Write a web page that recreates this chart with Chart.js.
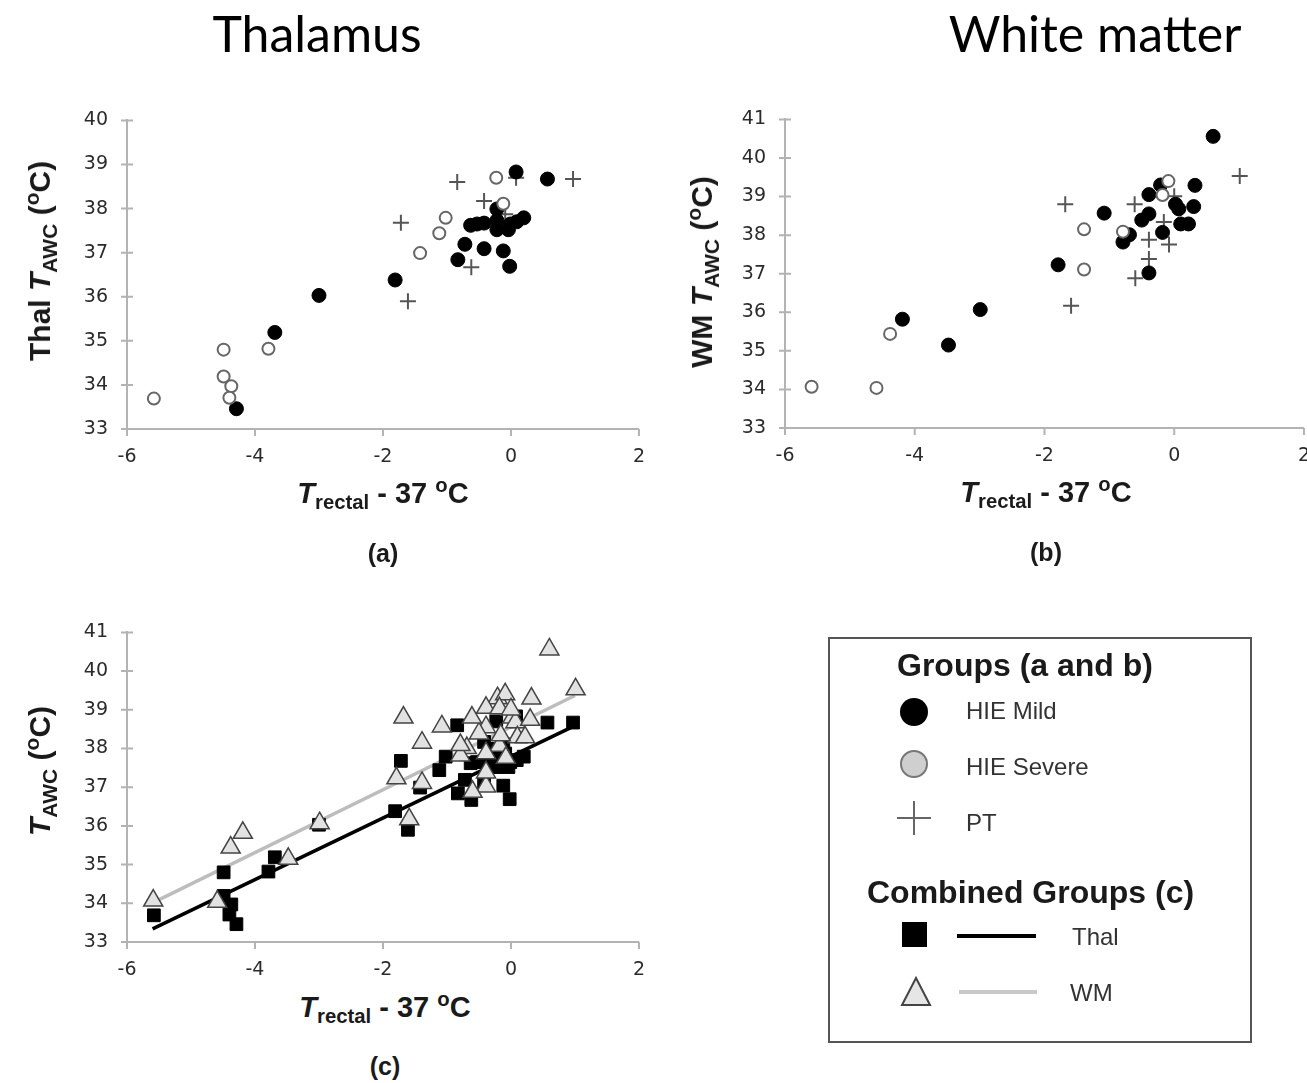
<!DOCTYPE html>
<html>
<head>
<meta charset="utf-8">
<script src="https://cdn.jsdelivr.net/npm/chart.js@4.4.1/dist/chart.umd.min.js"></script>
<style>
  html, body { margin: 0; padding: 0; background: #fff; width: 1307px; height: 1083px; overflow: hidden; }
  canvas { position: absolute; }
  .t { position: absolute; transform: translate(-50%, -50%); white-space: nowrap; line-height: 1;
       font-family: "Liberation Sans", Arial, sans-serif; font-weight: bold; color: #1a1a1a; }
  .rot { transform: translate(-50%, -50%) rotate(-90deg); }
  .big { font-family: Lato, "Open Sans", sans-serif; font-weight: normal; font-size: 50px; color: #000; }
  .ax { font-size: 29px; }
  .rax { font-size: 30px; }
  .lab { font-size: 25px; }
  .lg { position: absolute; transform: translateY(-50%); white-space: nowrap; line-height: 1;
        font-family: "Liberation Sans", Arial, sans-serif; color: #333; font-size: 24px; }
  .lgh { font-weight: bold; color: #1a1a1a; font-size: 32px; }
  sub, sup { font-size: 0.7em; line-height: 0; }
  #legendBox { position: absolute; left: 828px; top: 637px; width: 424px; height: 406px;
               box-sizing: border-box; border: 2px solid #555; }
  svg { position: absolute; left: 0; top: 0; }
</style>
</head>
<body>

<div class="t big" style="left:317px; top:33px;">Thalamus</div>
<div class="t big" style="left:1095px; top:33px;">White matter</div>

<canvas id="chartA"></canvas>
<canvas id="chartB"></canvas>
<canvas id="chartC"></canvas>

<!-- axis titles -->
<div class="t rax rot" style="left:40px; top:261px;">Thal <i>T</i><sub>AWC</sub> (<sup>o</sup>C)</div>
<div class="t ax" style="left:383px; top:493px;"><i>T</i><sub>rectal</sub> - 37 <sup>o</sup>C</div>
<div class="t lab" style="left:383px; top:553px;">(a)</div>

<div class="t rax rot" style="left:702px; top:272px;">WM <i>T</i><sub>AWC</sub> (<sup>o</sup>C)</div>
<div class="t ax" style="left:1046px; top:492px;"><i>T</i><sub>rectal</sub> - 37 <sup>o</sup>C</div>
<div class="t lab" style="left:1046px; top:552px;">(b)</div>

<div class="t rax rot" style="left:40px; top:771px;"><i>T</i><sub>AWC</sub> (<sup>o</sup>C)</div>
<div class="t ax" style="left:385px; top:1007px;"><i>T</i><sub>rectal</sub> - 37 <sup>o</sup>C</div>
<div class="t lab" style="left:385px; top:1066px;">(c)</div>

<!-- legend -->
<div id="legendBox"></div>
<svg width="1307" height="1083">
  <circle cx="914" cy="712" r="14" fill="#000"/>
  <circle cx="914" cy="764" r="13" fill="#cfcfcf" stroke="#777" stroke-width="2"/>
  <line x1="897" y1="818" x2="931" y2="818" stroke="#666" stroke-width="2"/>
  <line x1="914" y1="801" x2="914" y2="835" stroke="#666" stroke-width="2"/>
  <rect x="902" y="922" width="25" height="25" fill="#000"/>
  <line x1="957" y1="936" x2="1036" y2="936" stroke="#000" stroke-width="4"/>
  <polygon points="916,978 902,1005 930,1005" fill="#e6e6e6" stroke="#444" stroke-width="2"/>
  <line x1="959" y1="992" x2="1037" y2="992" stroke="#c8c8c8" stroke-width="4"/>
</svg>
<div class="lg lgh" style="left:897px; top:665px;">Groups (a and b)</div>
<div class="lg" style="left:966px; top:711px;">HIE Mild</div>
<div class="lg" style="left:966px; top:767px;">HIE Severe</div>
<div class="lg" style="left:966px; top:823px;">PT</div>
<div class="lg lgh" style="left:867px; top:892px;">Combined Groups (c)</div>
<div class="lg" style="left:1072px; top:937px;">Thal</div>
<div class="lg" style="left:1070px; top:993px;">WM</div>

<script>
// x = Trectal - 37 (oC), y = T_AWC (oC)

// (a) Thalamus
const thalMildX = [0.08, 0.57, -1.81, -0.72, -0.83, -0.42, -0.12, -0.02, -0.63, -0.53, -0.42,
                   -0.22, -0.22, -0.04, -0.01, 0.09, 0.20, -0.22, -4.29, -3.69, -3.00];
const thalMildY = [38.83, 38.67, 36.38, 37.19, 36.84, 37.09, 37.04, 36.69, 37.62, 37.65, 37.67,
                   37.73, 37.52, 37.52, 37.65, 37.70, 37.79, 37.99, 33.46, 35.19, 36.03];
const thalSevereX = [-0.23, -0.12, -1.02, -1.12, -1.42, -5.58, -4.49, -4.49, -4.37, -4.40, -3.79];
const thalSevereY = [38.70, 38.11, 37.79, 37.44, 36.99, 33.69, 34.80, 34.19, 33.97, 33.71, 34.82];
const thalPtX = [-0.84, 0.97, -0.42, -1.72, -1.61, -0.62, 0.08, -0.09];
const thalPtY = [38.60, 38.67, 38.17, 37.68, 35.90, 36.67, 38.70, 37.87];

// (b) White matter
const wmMildX = [0.60, -0.21, 0.32, -0.39, 0.02, 0.07, 0.30, -1.08, -0.39, -0.50, 0.10, 0.22,
                 -0.69, -0.79, -0.18, -1.79, -0.39, -4.19, -3.48, -2.99];
const wmMildY = [40.56, 39.30, 39.29, 39.05, 38.80, 38.68, 38.74, 38.57, 38.55, 38.39, 38.29, 38.29,
                 38.01, 37.82, 38.07, 37.23, 37.02, 35.82, 35.15, 36.07];
const wmSevereX = [-0.09, -0.18, -1.39, -0.79, -1.39, -5.59, -4.59, -4.38];
const wmSevereY = [39.40, 39.04, 38.15, 38.09, 37.11, 34.07, 34.04, 35.44];
const wmPtX = [1.01, 0.00, -1.68, -0.61, -0.16, -0.39, -0.08, -0.39, -0.60, -1.59];
const wmPtY = [39.53, 39.01, 38.80, 38.80, 38.34, 37.88, 37.76, 37.38, 36.88, 36.17];

// (c) fitted lines, end points
const fitX = [-5.6, 1.0];
const thalFitY = [33.34, 38.59];
const wmFitY = [34.01, 39.37];

// tick labels
const xTicks = [-6, -4, -2, 0, 2];
const yTicksAB = [33, 34, 35, 36, 37, 38, 39, 40, 41];

const axisGray = '#b3b3b3';

function pts(xs, ys) {
  return xs.map((x, i) => ({ x: x, y: ys[i] }));
}

// small tick marks: crossing on y, downward on x
const tickMarks = {
  id: 'tickMarks',
  beforeDatasetsDraw(chart) {
    const ctx = chart.ctx, xs = chart.scales.x, ys = chart.scales.y;
    ctx.save();
    ctx.strokeStyle = axisGray;
    ctx.lineWidth = 2;
    ctx.beginPath();
    ys.ticks.forEach(t => {
      const p = ys.getPixelForValue(t.value);
      ctx.moveTo(xs.left - 6, p); ctx.lineTo(xs.left + 6, p);
    });
    xs.ticks.forEach(t => {
      const p = xs.getPixelForValue(t.value);
      ctx.moveTo(p, ys.bottom); ctx.lineTo(p, ys.bottom + 7);
    });
    ctx.stroke();
    ctx.restore();
  }
};

function panel(id, box, yMin, yMax, datasets) {
  const padL = 80, padT = 20, padR = 20, padB = 45;
  const cv = document.getElementById(id);
  const w = box.r - box.l + padL + padR, h = box.b - box.t + padT + padB;
  cv.width = w; cv.height = h;
  cv.style.width = w + 'px'; cv.style.height = h + 'px';
  cv.style.left = (box.l - padL) + 'px'; cv.style.top = (box.t - padT) + 'px';
  const tickFont = { family: '"DejaVu Sans", sans-serif', size: 19 };
  return new Chart(cv, {
    type: 'scatter',
    data: { datasets: datasets },
    options: {
      responsive: false,
      animation: false,
      events: [],
      layout: { padding: { top: padT, right: padR, left: 0, bottom: 0 } },
      plugins: { legend: { display: false }, tooltip: { enabled: false } },
      scales: {
        x: {
          type: 'linear', min: -6, max: 2,
          afterBuildTicks: s => { s.ticks = xTicks.map(v => ({ value: v })); },
          ticks: { color: '#2b2b2b', font: tickFont, padding: 17 },
          grid: { display: false, drawTicks: false },
          border: { color: axisGray, width: 2 },
          afterFit: s => { s.height = padB; }
        },
        y: {
          type: 'linear', min: yMin, max: yMax,
          afterBuildTicks: s => { s.ticks = yTicksAB.filter(v => v >= yMin && v <= yMax).map(v => ({ value: v })); },
          ticks: { color: '#2b2b2b', font: tickFont, padding: 19 },
          grid: { display: false, drawTicks: false },
          border: { color: axisGray, width: 2 },
          afterFit: s => { s.width = padL; }
        }
      }
    },
    plugins: [tickMarks]
  });
}

function groupSets(sx, sy, mx, my, px, py) {
  return [
    { label: 'HIE Severe', data: pts(sx, sy), pointStyle: 'circle', pointRadius: 6,
      backgroundColor: '#fff', borderColor: '#666', borderWidth: 2 },
    { label: 'HIE Mild', data: pts(mx, my), pointStyle: 'circle', pointRadius: 7,
      backgroundColor: '#000', borderColor: '#000', borderWidth: 1 },
    { label: 'PT', data: pts(px, py), pointStyle: 'cross', pointRadius: 8,
      borderColor: '#555', borderWidth: 2 }
  ];
}

panel('chartA', { l: 127, t: 110, r: 642, b: 429 }, 33, 40,
  groupSets(thalSevereX, thalSevereY, thalMildX, thalMildY, thalPtX, thalPtY));

panel('chartB', { l: 785, t: 109, r: 1307, b: 428 }, 33, 41,
  groupSets(wmSevereX, wmSevereY, wmMildX, wmMildY, wmPtX, wmPtY));

const thalAllX = thalMildX.concat(thalSevereX, thalPtX);
const thalAllY = thalMildY.concat(thalSevereY, thalPtY);
const wmAllX = wmMildX.concat(wmSevereX, wmPtX);
const wmAllY = wmMildY.concat(wmSevereY, wmPtY);

panel('chartC', { l: 127, t: 622, r: 642, b: 942 }, 33, 41, [
  { label: 'WM', data: pts(wmAllX, wmAllY), pointStyle: 'triangle', pointRadius: 11,
    backgroundColor: '#e2e2e2', borderColor: '#444', borderWidth: 1.5 },
  { label: 'Thal', data: pts(thalAllX, thalAllY), pointStyle: 'rect', pointRadius: 9,
    backgroundColor: '#000', borderColor: '#000', borderWidth: 1 },
  { label: 'Thal fit', data: pts(fitX, thalFitY), showLine: true, borderColor: '#000',
    borderWidth: 3.5, pointRadius: 0 },
  { label: 'WM fit', data: pts(fitX, wmFitY), showLine: true, borderColor: '#bdbdbd',
    borderWidth: 3.5, pointRadius: 0 }
]);
</script>
</body>
</html>
